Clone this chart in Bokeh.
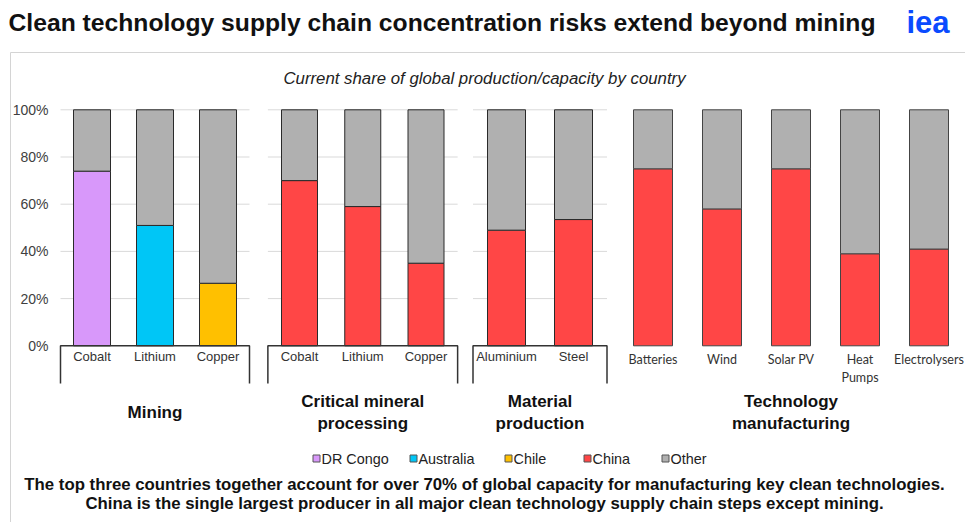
from bokeh.plotting import figure
from bokeh.models import Range1d, ColumnDataSource
from bokeh.core.properties import value
from bokeh.embed import file_html
from bokeh.resources import INLINE

# ---------------- data ----------------
title_text = "Clean technology supply chain concentration risks extend beyond mining"
subtitle_text = "Current share of global production/capacity by country"
logo_text = "iea"

group_labels = ["Mining", "Critical mineral\nprocessing", "Material\nproduction",
                "Technology\nmanufacturing"]

mining_items = ["Cobalt", "Lithium", "Copper"]
mining_country = ["DR Congo", "Australia", "Chile"]
mining_share = [74, 51, 26.5]
mining_other = [26, 49, 73.5]

processing_items = ["Cobalt", "Lithium", "Copper"]
processing_china = [70, 59, 35]
processing_other = [30, 41, 65]

material_items = ["Aluminium", "Steel"]
material_china = [49, 53.5]
material_other = [51, 46.5]

tech_items = ["Batteries", "Wind", "Solar PV", "Heat\nPumps", "Electrolysers"]
tech_china = [75, 58, 75, 39, 41]
tech_other = [25, 42, 25, 61, 59]

y_ticks = [0, 20, 40, 60, 80, 100]
y_tick_labels = ["0%", "20%", "40%", "60%", "80%", "100%"]

legend_labels = ["DR Congo", "Australia", "Chile", "China", "Other"]

footnote_lines = [
    "The top three countries together account for over 70% of global capacity for manufacturing key clean technologies.",
    "China is the single largest producer in all major clean technology supply chain steps except mining.",
]

# ---------------- styles / layout ----------------
COLORS = {"DR Congo": "#D898FA", "Australia": "#00C6F6", "Chile": "#FFC000",
          "China": "#FF4646", "Other": "#B0B0B0"}
FONT = "Liberation Sans"
W, H = 965, 522
ZERO_Y = 345.3      # pixel row (from top) of 0 %
PX100 = 236.0       # pixels for 100 %

p = figure(width=W, height=H, x_range=Range1d(0, W), y_range=Range1d(H, 0),
           x_axis_type=None, y_axis_type=None, toolbar_location=None,
           output_backend="svg", min_border=0, title=None)
p.extra_y_ranges = {"pct": Range1d(start=(ZERO_Y - H) / PX100 * 100,
                                   end=ZERO_Y / PX100 * 100)}
p.grid.visible = False
p.outline_line_color = None
p.background_fill_color = "white"
p.border_fill_color = "white"

# panel border
p.line(x=[10, 10, W], y=[H, 52, 52], line_color="#D4D4D4", line_width=1)

# title + logo + subtitle
p.text(x=[8], y=[22], text=[title_text], text_font=value(FONT), text_font_style="bold",
       text_font_size="24.7px", text_color="#111111", text_baseline="middle", text_align="left")
p.text(x=[906], y=[22], text=[logo_text], text_font=value(FONT), text_font_style="bold",
       text_font_size="31px", text_color="#0A4BFF", text_baseline="middle", text_align="left")
p.text(x=[484], y=[78], text=[subtitle_text], text_font=value(FONT), text_font_style="italic",
       text_font_size="16.8px", text_color="#222222", text_baseline="middle", text_align="center")

# y tick labels
p.text(x=[48] * len(y_ticks), y=y_ticks, text=y_tick_labels, y_range_name="pct",
       text_font=value(FONT), text_font_size="14px", text_color="#404040",
       text_baseline="middle", text_align="right")

groups = [
    dict(items=mining_items, lead=mining_share, other=mining_other,
         colors=[COLORS[c] for c in mining_country], x0=91.5, step=63, w=37, framed=True),
    dict(items=processing_items, lead=processing_china, other=processing_other,
         colors=[COLORS["China"]] * 3, x0=299, step=63.25, w=36, framed=True),
    dict(items=material_items, lead=material_china, other=material_other,
         colors=[COLORS["China"]] * 2, x0=506, step=67, w=38, framed=True),
    dict(items=tech_items, lead=tech_china, other=tech_other,
         colors=[COLORS["China"]] * 5, x0=652.5, step=69, w=39, framed=False),
]

for gi, g in enumerate(groups):
    n = len(g["items"])
    xs = [g["x0"] + i * g["step"] for i in range(n)]
    left, right = xs[0] - g["step"] / 2, xs[-1] + g["step"] / 2
    if g["framed"]:
        gl = y_ticks[1:]
        p.segment(x0=[left] * len(gl), x1=[right] * len(gl), y0=gl, y1=gl,
                  y_range_name="pct", line_color="#D9D9D9", line_width=1)
    src = ColumnDataSource(dict(
        x=xs, lead=g["lead"],
        total=[a + b for a, b in zip(g["lead"], g["other"])],
        color=g["colors"]))
    edge = "#2A2A2A" if g["framed"] else "#444444"
    p.vbar(x="x", width=g["w"], bottom=0, top="lead", fill_color="color",
           line_color=edge, line_width=1, source=src, y_range_name="pct")
    p.vbar(x="x", width=g["w"], bottom="lead", top="total", fill_color=COLORS["Other"],
           line_color=edge, line_width=1, source=src, y_range_name="pct")
    if g["framed"]:
        p.line(x=[left, left, right, right], y=[383, ZERO_Y, ZERO_Y, 383],
               line_color="#333333", line_width=1.5)
        p.text(x=xs, y=[ZERO_Y + 11] * n, text=g["items"], text_font=value(FONT),
               text_font_size="13px", text_color="#333333",
               text_baseline="middle", text_align="center")
    else:
        p.text(x=xs, y=[ZERO_Y + 6] * n, text=g["items"], text_font=value("Lato"),
               text_font_size="12.5px", text_color="#333333", text_line_height=1.2,
               text_baseline="top", text_align="center")
    p.text(x=[(left + right) / 2], y=[412], text=[group_labels[gi]], text_font=value(FONT),
           text_font_style="bold", text_font_size="17px", text_color="#111111",
           text_line_height=1.2, text_baseline="middle", text_align="center")

# legend
leg_x = [316, 413, 508, 587, 665]
p.scatter(x=leg_x, y=[458] * 5, marker="square", size=7,
          fill_color=[COLORS[c] for c in legend_labels], line_color="#555555", line_width=1)
p.text(x=[x + 5 for x in leg_x], y=[458] * 5, text=legend_labels, text_font=value(FONT),
       text_font_size="14.4px", text_color="#222222", text_baseline="middle", text_align="left")

# footnote
p.text(x=[484, 484], y=[484, 503], text=footnote_lines, text_font=value(FONT),
       text_font_style="bold", text_font_size="16.8px", text_color="#111111",
       text_baseline="middle", text_align="center")

open("out.html", "w").write(file_html(p, INLINE))
